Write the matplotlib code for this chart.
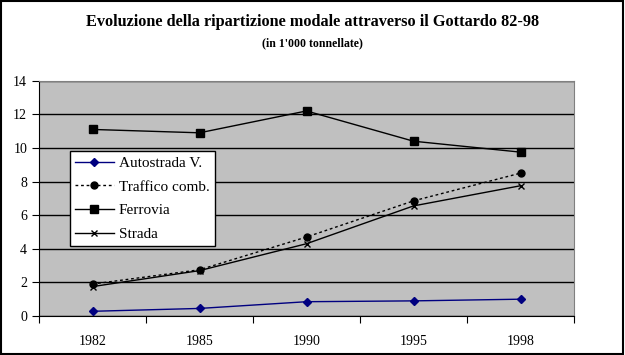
import matplotlib
matplotlib.use('Agg')
import matplotlib.pyplot as plt
from matplotlib.patches import Rectangle

plt.rcParams['font.family'] = ['Liberation Serif', 'DejaVu Serif']

anni = ['1982', '1985', '1990', '1995', '1998']
autostrada = [0.28, 0.45, 0.85, 0.9, 1.0]
traffico = [1.9, 2.75, 4.7, 6.85, 8.5]
ferrovia = [11.1, 10.9, 12.2, 10.4, 9.75]
strada = [1.75, 2.7, 4.3, 6.55, 7.75]

W, H = 625, 355
fig = plt.figure(figsize=(W / 100, H / 100), dpi=100)

# cornice nera attorno a tutto
fig.patches.append(Rectangle((0.002, 0.003), 0.995, 0.994, transform=fig.transFigure,
                             fill=False, edgecolor='black', linewidth=1.5))

ax = fig.add_axes([39 / W, (H - 316) / H, (574 - 39) / W, (316 - 80.7) / H])
ax.set_facecolor('#c0c0c0')
for s in ax.spines.values():
    s.set_color('#808080')
ax.spines['left'].set_color('black')
ax.spines['bottom'].set_color('black')

x = range(len(anni))
ax.plot(x, autostrada, color='#000080', marker='D', markersize=4, linewidth=1, label='Autostrada V.')
ax.plot(x, traffico, color='black', marker='o', markersize=5, linewidth=1, linestyle=(0, (2, 2)), label='Traffico comb.')
ax.plot(x, ferrovia, color='black', marker='s', markersize=6, linewidth=1, label='Ferrovia')
ax.plot(x, strada, color='black', marker='x', markersize=5, markeredgewidth=1, linewidth=1, label='Strada')

ax.set_xlim(-0.5, len(anni) - 0.5)
ax.set_ylim(0, 14)
ax.set_yticks(range(0, 15, 2))
ax.yaxis.grid(True, color='black', linewidth=1)
ax.set_axisbelow(True)

ax.set_xticks([i - 0.5 for i in range(len(anni) + 1)])
ax.set_xticklabels([])
ax.set_xticks(list(x), minor=True)
ax.set_xticklabels(anni, minor=True)
ax.tick_params(axis='x', which='minor', length=0, pad=14, labelsize=10)
ax.tick_params(axis='x', which='major', length=5, direction='out', color='black')
ax.tick_params(axis='y', length=5, labelsize=10)

fig.text(0.5, 1 - 22 / H, 'Evoluzione della ripartizione modale attraverso il Gottardo 82-98',
         ha='center', va='center', fontsize=11.7, fontweight='bold')
fig.text(0.5, 1 - 43 / H, "(in 1'000 tonnellate)", ha='center', va='center',
         fontsize=8.5, fontweight='bold')

leg = ax.legend(loc='upper left', bbox_to_anchor=(70 / W, 1 - 151 / H),
                bbox_transform=fig.transFigure, fontsize=11, frameon=True,
                fancybox=False, edgecolor='black', framealpha=1, borderaxespad=0,
                handlelength=2.5, borderpad=0.35, labelspacing=0.65, handletextpad=0.35)
leg.get_frame().set_linewidth(1)

fig.savefig('out.png', dpi=100)
